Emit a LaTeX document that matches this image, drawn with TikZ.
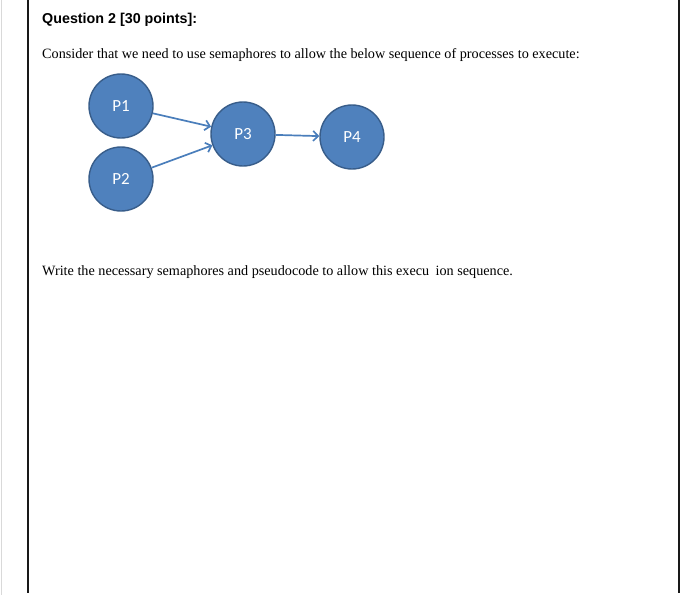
\documentclass[tikz,border=0pt]{standalone}
\usepackage{fontspec}
\setmainfont{Liberation Serif}
\setsansfont{Liberation Sans}
\newfontfamily\calibri{Carlito}
\usetikzlibrary{arrows,arrows.meta,shapes,positioning}

\definecolor{procfill}{HTML}{4F81BD}
\definecolor{procdraw}{HTML}{385D8A}
\definecolor{arrowblue}{HTML}{4A7EBB}

\begin{document}
\begin{tikzpicture}[x=1pt,y=-1pt,node distance=73pt,
	Edge/.style={-{Straight Barb[length=5pt,width=10pt]},arrowblue,line width=1.7pt},
	Proc/.style={circle,fill=procfill,draw=procdraw,line width=1.4pt,minimum size=64pt,inner sep=0pt,text=white,font=\calibri\fontsize{17}{20}\selectfont},
	Rule/.style={line width=2pt,black!90},
	Txt/.style={anchor=base west,inner sep=0pt},
]
	\useasboundingbox (0,0) rectangle (700,595);
	\draw[gray!30,line width=1pt] (1,0) -- (1,595);
	\draw[Rule] (28,0) -- (28,593);
	\draw[Rule] (679,0) -- (679,593);

	\node[Txt,font=\sffamily\bfseries\fontsize{14.3}{17}\selectfont] (Q) at (42,23) {Question 2 [30 points]:};
	\node[Txt,font=\fontsize{14.2}{17}\selectfont] (Intro) at (42,58) {Consider that we need to use semaphores to allow the below sequence of processes to execute:};

	\node[Proc] (P1) at (121,106) {P1};
	\node[Proc] (P2)[below of=P1]{P2};
	\node[Proc] (P3) at (243,134) {P3};
	\node[Proc] (P4)[right of=P3,node distance=109pt,yshift=-3pt]{P4};

	\path[Edge]
	(P1) edge (P3)
	(P2) edge (P3)
	(P3) edge (P4)
	;

	\node[Txt,font=\fontsize{14.2}{17}\selectfont] (Task) at (42,275) {Write the necessary semaphores and pseudocode to allow this execu\hspace{0.45em}ion sequence.};
\end{tikzpicture}
\end{document}
